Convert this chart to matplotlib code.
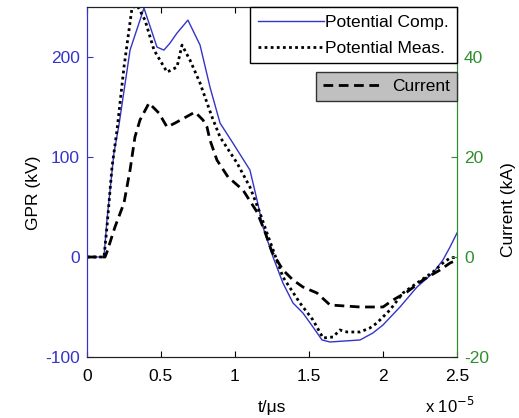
import numpy as np
import matplotlib.pyplot as plt
from matplotlib.lines import Line2D
from matplotlib.ticker import FuncFormatter

plt.rcParams['font.family'] = ['Liberation Sans', 'DejaVu Sans']
plt.rcParams['axes.unicode_minus'] = False

# time axis values are in units of 1e-5 s
t_comp = [0, 0.115, 0.135, 0.182, 0.216, 0.291, 0.385, 0.473, 0.520, 0.561, 0.608,
          0.682, 0.764, 0.831, 0.899, 0.986, 1.101, 1.149, 1.189, 1.257, 1.324,
          1.392, 1.459, 1.527, 1.588, 1.642, 1.845, 1.932, 2.0, 2.115, 2.230,
          2.338, 2.405, 2.453, 2.5]
gpr_comp = [0, 0, 37, 104, 132, 207, 249, 210, 207, 214, 224,
            237, 212, 170, 134, 114, 87, 57, 30, 0, -26,
            -46, -56, -70, -83, -85, -83, -76, -68, -50, -30,
            -16, -3, 10, 24]

t_meas = [0, 0.115, 0.135, 0.169, 0.203, 0.250, 0.304, 0.338, 0.392, 0.453, 0.541,
          0.608, 0.642, 0.696, 0.764, 0.845, 0.899, 1.014, 1.101, 1.169, 1.216,
          1.324, 1.439, 1.527, 1.595, 1.662, 1.709, 1.757, 1.845, 1.912, 1.959,
          2.047, 2.135, 2.230, 2.338, 2.405, 2.453, 2.5]
gpr_meas = [0, 0, 30, 90, 127, 190, 249, 252, 237, 207, 185,
            190, 212, 197, 174, 140, 120, 94, 70, 44, 24,
            -20, -46, -63, -81, -80, -73, -75, -75, -71, -66,
            -53, -36, -26, -15, -6, -1, 0]

t_curr = [0, 0.122, 0.135, 0.189, 0.250, 0.291, 0.324, 0.358, 0.419, 0.486, 0.541,
          0.595, 0.730, 0.784, 0.811, 0.831, 0.878, 0.953, 1.054, 1.149, 1.203,
          1.250, 1.324, 1.392, 1.459, 1.554, 1.642, 1.845, 2.0, 2.068, 2.162,
          2.270, 2.385, 2.453, 2.5]
current = [0, 0, 1, 6, 10.8, 17.4, 24, 27.4, 30.8, 28.8, 26,
           26.8, 29, 27.4, 26, 23.4, 19.4, 16, 13.4, 9, 5,
           1, -2.6, -4.6, -6, -7.2, -9.6, -10, -10, -8.6, -7,
           -4.6, -2.6, -1.2, -0.6]

gpr_ticks = [-100, 0, 100, 200]
curr_ticks = [-20, 0, 20, 40]
t_ticks = [0, 0.5, 1, 1.5, 2, 2.5]

blue = '#3434c8'
green = '#2f8f2f'
fs = 12.5

fig = plt.figure(figsize=(5.19, 4.18), dpi=100)
ax1 = fig.add_axes([0.1676, 0.146, 0.7129, 0.837])
ax2 = ax1.twinx()

scale = 1e-5
ax1.plot(np.array(t_comp) * scale, gpr_comp, color=blue, lw=1.0)
ax1.plot(np.array(t_meas) * scale, gpr_meas, color='black', lw=2.0, ls=(0, (1, 1.2)))
ax2.plot(np.array(t_curr) * scale, current, color='black', lw=2.0, ls=(0, (3.5, 2)))

ax1.set_xlim(0, 2.5e-5)
ax1.set_ylim(-100, 250)
ax2.set_ylim(-20, 50)
ax1.set_xticks(np.array(t_ticks) * scale)
ax1.xaxis.set_major_formatter(FuncFormatter(lambda v, p: '%g' % round(v / scale, 3)))
ax1.set_yticks(gpr_ticks)
ax2.set_yticks(curr_ticks)

ax1.tick_params(axis='x', direction='in', top=True, length=4, labelsize=fs, pad=9,
                colors='black')
ax1.tick_params(axis='y', direction='in', length=4, labelsize=fs, colors=blue, pad=5)
ax2.tick_params(axis='y', direction='in', length=4, labelsize=fs, colors=green, pad=5)

ax1.spines['left'].set_color(blue)
ax2.spines['left'].set_color(blue)
ax2.spines['right'].set_color(green)
ax1.spines['right'].set_color(green)
for ax in (ax1, ax2):
    ax.spines['top'].set_color('#222222')
    ax.spines['bottom'].set_color('#222222')

ax1.set_ylabel('GPR (kV)', fontsize=fs)
ax1.yaxis.set_label_coords(-0.125, 0.47)
ax2.set_ylabel('Current (kA)', fontsize=fs)
ax2.yaxis.set_label_coords(1.12, 0.42)
ax1.set_xlabel('t/μs', fontsize=fs, labelpad=11)
fig.text(0.915, 0.03, r'x 10$^{-5}$', fontsize=12, ha='right', va='center')

# two separate legend boxes, the current one on a grey background
h_comp = Line2D([], [], color=blue, lw=1.0)
h_meas = Line2D([], [], color='black', lw=2.0, ls=(0, (1, 1.2)))
h_curr = Line2D([], [], color='black', lw=2.0, ls=(0, (3.5, 2)))
leg1 = ax2.legend([h_comp, h_meas], ['Potential Comp.', 'Potential Meas.'],
                  loc='upper right', bbox_to_anchor=(1.0, 1.0), fontsize=fs,
                  handlelength=3.8, handletextpad=0.1, borderpad=0.45,
                  labelspacing=0.6, borderaxespad=0, fancybox=False,
                  framealpha=1, edgecolor='black', facecolor='white')
leg1.get_frame().set_linewidth(1.0)
ax2.add_artist(leg1)
leg2 = ax2.legend([h_curr], ['Current'], loc='upper right',
                  bbox_to_anchor=(1.0, 0.814), fontsize=fs,
                  handlelength=3.4, handletextpad=0.6, borderpad=0.4,
                  borderaxespad=0, fancybox=False, framealpha=1,
                  edgecolor='#333333', facecolor='#c0c0c0')
leg2.get_frame().set_linewidth(1.0)

fig.savefig('out.png', dpi=100)
